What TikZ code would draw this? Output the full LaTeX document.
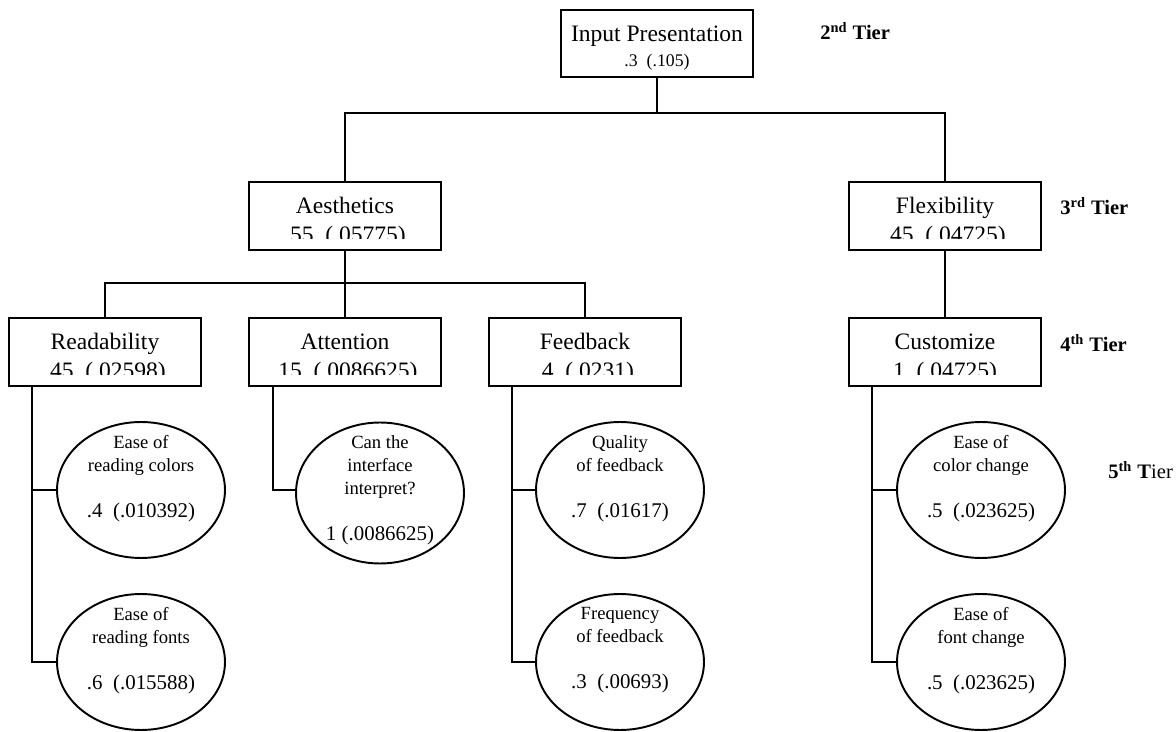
\documentclass[tikz,border=0pt]{standalone}
\usepackage{fontspec}
\setmainfont{Liberation Serif}
\usetikzlibrary{shapes.geometric}

\begin{document}
\begin{tikzpicture}[
  x=0.02cm, y=-0.02cm,
  link/.style={line width=1.1pt},
  tbox/.style={draw, line width=1.1pt, minimum width=3.84cm, minimum height=1.36cm,
    font=\fontsize{13.4}{16}\selectfont, text height=9.5pt, text depth=12.3pt},
  tval/.style={anchor=base, inner sep=0pt, font=\fontsize{13.4}{16}\selectfont},
  leaf/.style={ellipse, draw, line width=1.1pt, minimum width=3.36cm, minimum height=2.72cm, inner sep=0pt},
  ltext/.style={anchor=north, align=center, inner sep=0pt, font=\fontsize{10.6}{13.1}\selectfont},
  tier/.style={anchor=west, inner sep=0pt, font=\fontsize{11.7}{14}\selectfont\bfseries}
]
  \useasboundingbox (0,0) rectangle (1176,732);

  % Boxes, tiers 2 to 4
  \node[tbox, minimum height=1.34cm] (inp) at (657,43.5) {Input Presentation};
  \node[tval, font=\fontsize{10.1}{12}\selectfont] (inp-v) at (657,67) {.3~~(.105)};
  \node[tbox] (aes) at (345,216) {Aesthetics};
  \node[tbox] (flex) at (945,216) {Flexibility};
  \node[tbox] (read) at (105,352) {Readability};
  \node[tbox] (att) at (345,352) {Attention};
  \node[tbox] (feed) at (585,352) {Feedback};
  \node[tbox] (cust) at (945,352) {Customize};

  % weights, cut off by the box margin
  \foreach \n/\v in {aes/{.55~~(.05775)}, flex/{.45~~(.04725)}, read/{.45~~(.02598)},
                     att/{.15~~(.0086625)}, feed/{.4~~(.0231)}, cust/{1~~(.04725)}} {
    \begin{scope}
      \clip ([yshift=6.9pt]\n.south west) rectangle (\n.north east);
      \node[tval] (\n-v) at ([yshift=-15.1pt]\n.center) {\v};
    \end{scope}
  }

  % Ellipses, tier 5
  \node[leaf] (rcol) at (141,490) {};
  \node[leaf] (rfont) at (141,662) {};
  \node[leaf, minimum height=2.82cm] (intp) at (380,493) {};
  \node[leaf] (qual) at (620,490) {};
  \node[leaf] (freq) at (620,662) {};
  \node[leaf] (ccol) at (981,490) {};
  \node[leaf] (cfont) at (981,662) {};

  \node[ltext] (rcol-t) at ([yshift=31.3pt]rcol.center) {Ease of\\reading colors\\[13.1pt]{\fontsize{11.9}{13.1}\selectfont .4~~(.010392)}};
  \node[ltext] (rfont-t) at ([yshift=31.3pt]rfont.center) {Ease of\\reading fonts\\[13.1pt]{\fontsize{11.9}{13.1}\selectfont .6~~(.015588)}};
  \node[ltext] (intp-t) at ([yshift=33pt]intp.center) {Can the\\interface\\interpret?\\[13.1pt]{\fontsize{11.9}{13.1}\selectfont 1 (.0086625)}};
  \node[ltext] (qual-t) at ([yshift=31.3pt]qual.center) {Quality\\of feedback\\[13.1pt]{\fontsize{11.9}{13.1}\selectfont .7~~(.01617)}};
  \node[ltext] (freq-t) at ([yshift=31.3pt]freq.center) {Frequency\\of feedback\\[13.1pt]{\fontsize{11.9}{13.1}\selectfont .3~~(.00693)}};
  \node[ltext] (ccol-t) at ([yshift=31.3pt]ccol.center) {Ease of\\color change\\[13.1pt]{\fontsize{11.9}{13.1}\selectfont .5~~(.023625)}};
  \node[ltext] (cfont-t) at ([yshift=31.3pt]cfont.center) {Ease of\\font change\\[13.1pt]{\fontsize{11.9}{13.1}\selectfont .5~~(.023625)}};

  % Tier labels
  \node[tier] (t2) at (820,31) {2\textsuperscript{nd} Tier};
  \node[tier] (t3) at (1060,206) {3\textsuperscript{rd} Tier};
  \node[tier] (t4) at (1060,343) {4\textsuperscript{th} Tier};
  \node[tier] (t5) at (1108,470) {5\textsuperscript{th} T{\mdseries ier}};

  % Connectors
  \coordinate (j1) at (657,113);
  \coordinate (j2) at (345,283);
  \draw[link] (inp) -- (j1);
  \draw[link] (aes.north) |- (j1) -| (flex.north);
  \draw[link] (aes) -- (j2);
  \draw[link] (read.north) |- (j2) -| (feed.north);
  \draw[link] (j2) -- (att.north);
  \draw[link] (flex) -- (cust);

  \draw[link] ([xshift=0.47cm]read.south west) |- (rfont.west);
  \draw[link] ([xshift=0.47cm]read.south west) |- (rcol.west);
  \draw[link] ([xshift=0.5cm]att.south west) |- ([yshift=1.7pt]intp.west);
  \draw[link] ([xshift=0.48cm]feed.south west) |- (freq.west);
  \draw[link] ([xshift=0.48cm]feed.south west) |- (qual.west);
  \draw[link] ([xshift=0.48cm]cust.south west) |- (cfont.west);
  \draw[link] ([xshift=0.48cm]cust.south west) |- (ccol.west);
\end{tikzpicture}
\end{document}
